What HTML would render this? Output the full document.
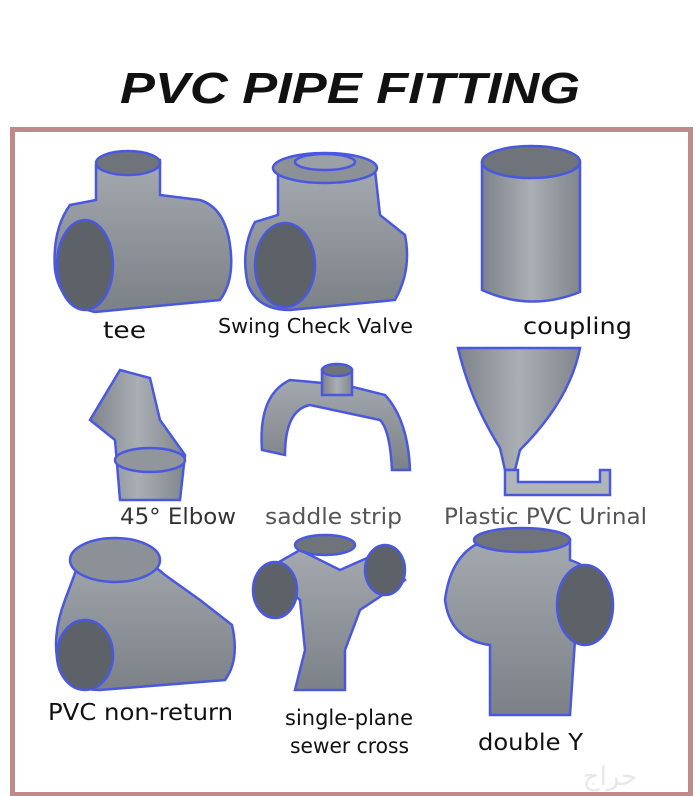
<!DOCTYPE html>
<html><head><meta charset="utf-8"><style>
html,body{margin:0;padding:0;background:#fff;}
svg{display:block}
text{font-family:"DejaVu Sans","Liberation Sans",sans-serif;}
</style></head><body>
<svg width="700" height="796" viewBox="0 0 700 796" xmlns="http://www.w3.org/2000/svg">
<defs>
<linearGradient id="g" x1="0" y1="0" x2="1" y2="0">
<stop offset="0" stop-color="#7d8389"/><stop offset="0.5" stop-color="#a9afb4"/><stop offset="1" stop-color="#80868c"/>
</linearGradient>
<linearGradient id="gv" x1="0" y1="0" x2="0" y2="1">
<stop offset="0" stop-color="#a3a9ae"/><stop offset="1" stop-color="#7b8187"/>
</linearGradient>
</defs>
<rect width="700" height="796" fill="#fff"/>
<text x="120" y="103" textLength="460" lengthAdjust="spacingAndGlyphs" font-size="44" font-weight="bold" font-style="italic" fill="#111" style="font-family:'Liberation Sans',sans-serif">PVC PIPE FITTING</text>
<rect x="12.5" y="129.5" width="678" height="665" fill="none" stroke="#c08a8a" stroke-width="5"/>

<g stroke="#4a58e0" stroke-width="2.5">
<path d="M96 165 L96 200 L70 205 Q52 230 55 270 Q60 305 95 312 L220 300 Q235 280 230 245 Q225 208 200 200 L160 195 L160 160 Z" fill="url(#gv)"/>
<ellipse cx="128" cy="163" rx="32" ry="12" fill="#6e747a"/>
<ellipse cx="85" cy="265" rx="28" ry="45" fill="#5c6268"/>
<path d="M278 175 L278 215 L255 222 Q240 250 248 285 Q258 310 290 310 L395 300 Q412 270 405 235 L380 215 L375 170 Z" fill="url(#gv)"/>
<ellipse cx="325" cy="168" rx="52" ry="15" fill="#8b9196"/>
<ellipse cx="325" cy="162" rx="30" ry="8" fill="#9aa0a5"/>
<ellipse cx="285" cy="265" rx="30" ry="42" fill="#5c6268"/>
<path d="M482 162 L482 290 Q530 312 580 292 L580 162 Z" fill="url(#g)"/>
<ellipse cx="531" cy="162" rx="49" ry="16" fill="#6e747a"/>
<path d="M120 370 L90 420 L115 440 L120 500 L180 500 L185 455 L160 420 L150 378 Z" fill="url(#g)"/>
<ellipse cx="150" cy="460" rx="35" ry="12" fill="#90969b"/>
<path d="M290 380 Q258 395 262 450 L285 455 Q285 410 310 405 L380 420 Q390 430 392 470 L410 470 Q408 420 385 395 L345 385 Z" fill="url(#gv)"/>
<path d="M322 370 L322 395 L352 395 L352 370 Z" fill="url(#g)"/>
<ellipse cx="337" cy="370" rx="15" ry="6" fill="#6e747a"/>
<path d="M458 348 L580 348 Q570 400 520 450 L515 470 L505 470 L500 448 Q470 400 458 348 Z" fill="url(#g)"/>
<path d="M505 470 L505 495 L610 495 L610 470 L600 470 L600 482 L518 482 L518 470 Z" fill="#b0b5ba"/>
<path d="M80 560 L65 600 Q50 640 60 670 Q70 690 100 690 L225 680 Q240 660 232 625 L200 600 L165 575 Q130 545 100 545 Z" fill="url(#gv)"/>
<ellipse cx="115" cy="560" rx="45" ry="22" fill="#8b9196"/>
<ellipse cx="85" cy="655" rx="28" ry="35" fill="#5c6268"/>
<path d="M265 570 L300 600 L305 650 L295 690 L345 690 L345 650 L360 610 L405 580 L385 550 L340 570 L300 550 Z" fill="url(#gv)"/>
<ellipse cx="275" cy="590" rx="22" ry="28" fill="#5c6268"/>
<ellipse cx="385" cy="570" rx="20" ry="25" fill="#5c6268"/>
<ellipse cx="325" cy="545" rx="30" ry="10" fill="#6e747a"/>
<path d="M475 545 Q450 560 445 600 Q450 640 490 645 L490 715 L570 715 L575 640 Q600 635 605 600 Q600 570 570 560 L570 540 Z" fill="url(#gv)"/>
<ellipse cx="522" cy="540" rx="48" ry="12" fill="#6e747a"/>
<ellipse cx="585" cy="605" rx="28" ry="40" fill="#5c6268"/>
</g>

<g font-size="23" fill="#111" lengthAdjust="spacingAndGlyphs">
<text x="103" y="338" textLength="43" lengthAdjust="spacingAndGlyphs">tee</text>
<text x="218" y="333" font-size="20" textLength="195" lengthAdjust="spacingAndGlyphs">Swing Check Valve</text>
<text x="523" y="334" textLength="109" lengthAdjust="spacingAndGlyphs">coupling</text>
<text x="120" y="524" font-size="22" fill="#333" textLength="116" lengthAdjust="spacingAndGlyphs">45° Elbow</text>
<text x="265" y="524" font-size="22" fill="#555" textLength="137" lengthAdjust="spacingAndGlyphs">saddle strip</text>
<text x="444" y="524" font-size="22" fill="#555" textLength="203" lengthAdjust="spacingAndGlyphs">Plastic PVC Urinal</text>
<text x="48" y="720" textLength="185" lengthAdjust="spacingAndGlyphs">PVC non-return</text>
<text x="285" y="725" font-size="21" textLength="128" lengthAdjust="spacingAndGlyphs">single-plane</text>
<text x="290" y="753" font-size="21" textLength="119" lengthAdjust="spacingAndGlyphs">sewer cross</text>
<text x="478" y="750" textLength="105" lengthAdjust="spacingAndGlyphs">double Y</text>
</g>
<text x="610" y="785" font-size="26" fill="#e8e8e8" text-anchor="middle" font-family="'Liberation Sans','Noto Sans CJK SC',sans-serif">حراج</text>
</svg>
</body></html>
